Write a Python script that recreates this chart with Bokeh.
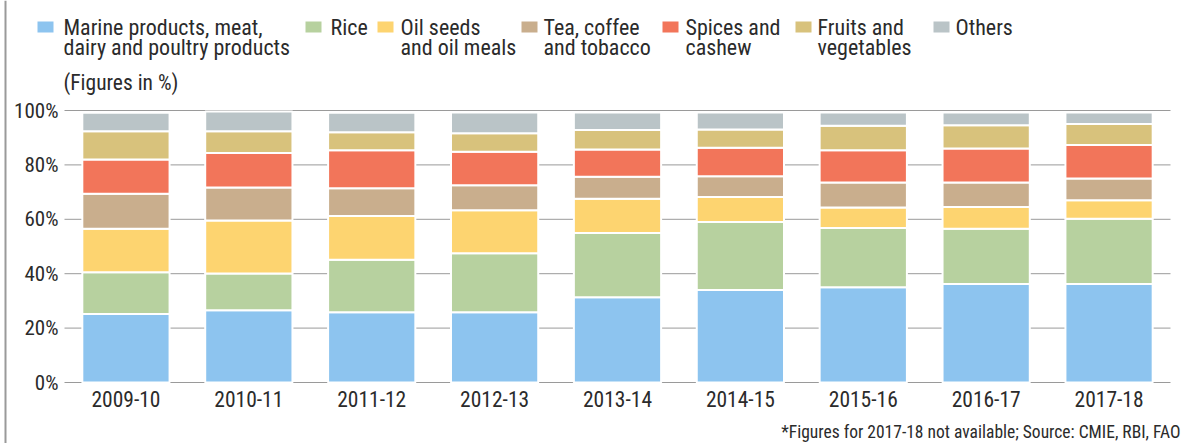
from bokeh.plotting import figure
from bokeh.models import ColumnDataSource, Range1d, LinearScale
from bokeh.core.properties import value
from bokeh.embed import file_html
from bokeh.resources import INLINE

# ---------------- data ----------------
years = ["2009-10", "2010-11", "2011-12", "2012-13", "2013-14",
         "2014-15", "2015-16", "2016-17", "2017-18"]
marine = [25.2, 26.6, 25.8, 25.8, 31.3, 34.0, 35.0, 36.2, 36.2]
rice = [15.3, 13.5, 19.3, 21.7, 23.7, 25.0, 21.8, 20.3, 24.0]
oil = [16.0, 19.5, 16.1, 15.8, 12.6, 9.2, 7.5, 8.0, 6.8]
tea = [12.9, 12.1, 10.2, 9.2, 8.0, 7.6, 9.2, 9.0, 8.0]
spices = [12.6, 12.7, 14.0, 12.3, 10.1, 10.5, 11.9, 12.5, 12.3]
fruits = [10.4, 8.0, 6.6, 6.8, 7.1, 6.7, 9.0, 8.6, 7.7]
others = [6.8, 7.2, 7.2, 7.7, 6.5, 6.3, 4.9, 4.7, 4.3]

series_keys = ["marine", "rice", "oil", "tea", "spices", "fruits", "others"]
series_labels = ["Marine products, meat,\ndairy and poultry products", "Rice",
                 "Oil seeds\nand oil meals", "Tea, coffee\nand tobacco",
                 "Spices and\ncashew", "Fruits and\nvegetables", "Others"]
y_ticks = [0, 20, 40, 60, 80, 100]
y_tick_labels = ["0%", "20%", "40%", "60%", "80%", "100%"]
unit_note = "(Figures in %)"
footnote = "*Figures for 2017-18 not available; Source: CMIE, RBI, FAO"

# ---------------- style / layout (page pixels) ----------------
colors = ["#8dc4ef", "#b7d19f", "#fdd470", "#c9ae8d", "#f2755a", "#d8c27c", "#bac4c7"]
FONT = "Liberation Sans Narrow, Roboto Condensed, Noto Sans Condensed, DejaVu Sans Condensed, Lato"
TEXT_COLOR = "#2b2b2b"
W, H = 1189, 443
PLOT_L, PLOT_R = 64, 1170        # extent of the bar area / grid lines
BASE_Y, TOP_Y = 382, 110         # pixel rows of 0 % and 100 %
BAR_W = 0.71
YLAB_X = 58
XLAB_Y = 398.5
legend_swatch_x = [37, 305, 377, 521, 662, 795, 933]
legend_text_x = [63, 330, 400, 543, 685, 817, 955]
SWATCH_W, SWATCH_TOP, SWATCH_BOTTOM = 16, 21, 32
LINE1_Y, LINE2_Y, NOTE_Y = 26.5, 46.5, 81.5
FOOT_X, FOOT_Y = 1180, 431.5
BORDER_X = 5

n = len(years)
xpos = [i + 0.5 for i in range(n)]
step = (PLOT_R - PLOT_L) / n
ppu = (BASE_Y - TOP_Y) / 100.0

p = figure(width=W, height=H,
           x_range=Range1d(-PLOT_L / step, (W - PLOT_L) / step),
           y_range=Range1d(-(H - BASE_Y) / ppu, BASE_Y / ppu),
           output_backend="svg", toolbar_location=None,
           x_axis_type=None, y_axis_type=None,
           min_border_left=0, min_border_right=0, min_border_top=0, min_border_bottom=0)
p.outline_line_color = None
p.xgrid.visible = False
p.ygrid.visible = False
# page-pixel coordinate system for layout elements
p.extra_x_ranges = {"px": Range1d(0, W)}
p.extra_y_ranges = {"px": Range1d(H, 0)}
p.extra_x_scales = {"px": LinearScale()}
p.extra_y_scales = {"px": LinearScale()}

# grid lines and y tick labels (values in data units)
gsrc = ColumnDataSource(dict(y=y_ticks, lab=y_tick_labels,
                             x0=[PLOT_L] * len(y_ticks), x1=[PLOT_R] * len(y_ticks),
                             lx=[YLAB_X] * len(y_ticks)))
p.segment(x0="x0", x1="x1", y0="y", y1="y", source=gsrc, x_range_name="px",
          line_color="#9a9a9a", line_width=1)
p.text(x="lx", y="y", text="lab", source=gsrc, x_range_name="px",
       text_font=value(FONT), text_font_size="21px", text_color=TEXT_COLOR,
       text_align="right", text_baseline="middle")

# stacked bars
src = ColumnDataSource(dict(x=xpos, years=years, marine=marine, rice=rice, oil=oil, tea=tea,
                            spices=spices, fruits=fruits, others=others,
                            ly=[XLAB_Y] * n))
p.vbar_stack(series_keys, x="x", width=BAR_W, color=colors, line_color="white",
             line_width=2, source=src)

# x tick labels
p.text(x="x", y="ly", text="years", source=src, y_range_name="px",
       text_font=value(FONT), text_font_size="21.5px", text_color=TEXT_COLOR,
       text_align="center", text_baseline="middle")

# legend
line1 = [s.split("\n")[0] for s in series_labels]
line2 = [s.split("\n")[1] if "\n" in s else "" for s in series_labels]
lsrc = ColumnDataSource(dict(sx=legend_swatch_x, sx2=[x + SWATCH_W for x in legend_swatch_x],
                             tx=legend_text_x, color=colors, l1=line1, l2=line2))
p.quad(left="sx", right="sx2", top=SWATCH_TOP, bottom=SWATCH_BOTTOM, source=lsrc,
       fill_color="color", line_color=None, x_range_name="px", y_range_name="px")
for col, yy in (("l1", LINE1_Y), ("l2", LINE2_Y)):
    p.text(x="tx", y=yy, text=col, source=lsrc, x_range_name="px", y_range_name="px",
           text_font=value(FONT), text_font_size="22px", text_color=TEXT_COLOR,
           text_baseline="middle")
p.text(x=[legend_text_x[0]], y=[NOTE_Y], text=[unit_note], x_range_name="px", y_range_name="px",
       text_font=value(FONT), text_font_size="21.5px", text_color=TEXT_COLOR,
       text_baseline="middle")

# footnote
p.text(x=[FOOT_X], y=[FOOT_Y], text=[footnote], x_range_name="px", y_range_name="px",
       text_font=value(FONT), text_font_size="17.5px", text_color=TEXT_COLOR,
       text_align="right", text_baseline="middle")

# left frame rule
p.segment(x0=[BORDER_X], x1=[BORDER_X], y0=[0], y1=[H], x_range_name="px", y_range_name="px",
          line_color="#9a9a9a", line_width=2)

open("out.html", "w").write(file_html(p, INLINE))
